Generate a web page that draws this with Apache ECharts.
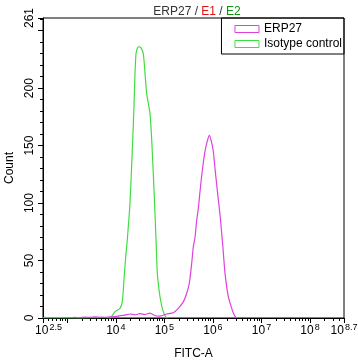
<!DOCTYPE html>
<html><head><meta charset="utf-8">
<script src="https://cdn.jsdelivr.net/npm/echarts@6/dist/echarts.min.js"></script>
<style>html,body{margin:0;padding:0;background:#fff}#c{width:358px;height:361px}</style>
</head><body><div id="c"></div>
<script>
// x values are log10(FITC-A)
const isoX = [2.50,2.54,2.62,2.85,3.00,3.26,3.57,3.74,3.88,3.983,4.086,4.133,4.168,4.203,4.236,4.292,4.348,4.374,4.395,4.416,4.446,4.483,4.518,4.566,4.601,4.636,4.673,4.704,4.739,4.786,4.828,4.855,4.910,4.966,5.033,5.081];
const isoY = [0,0.5,0,0.3,0,0,0.3,0.5,0,5.5,8.4,14,33,53,68,100,155,184,213,230,235,236,235,230,213,195,186,178,155,112,68,39,18.5,7,0.6,0];
const erpX = [3.118,3.262,3.365,3.468,3.571,3.674,3.777,3.880,3.983,4.086,4.189,4.292,4.395,4.498,4.601,4.704,4.807,4.910,5.048,5.184,5.287,5.390,5.460,5.513,5.563,5.596,5.631,5.666,5.699,5.734,5.769,5.802,5.837,5.878,5.925,5.960,6.008,6.043,6.078,6.111,6.146,6.201,6.249,6.317,6.387,6.434,6.475];
const erpY = [0.5,0.3,0.8,0.5,1,0.6,0.5,1,1.2,2,2.5,3.5,2.8,3.8,3,4.3,2,1.7,3.5,4.6,8.4,14,21.5,30,47.6,62,70,85,95,110,124,135,145,153,159,155,145,130,116,103,90,64,39,18.5,8.4,3,0];
const xLabelValues = [2.5,4,5,6,7,8,8.7];
const xLabelExps = ['2.5','4','5','6','7','8','8.7'];
const xMajorTicks = [2.5,3,4,5,6,7,8,8.7];
const yLabelValues = [0,50,100,150,200,261];
const yMajorTicks = [0,50,100,150,200,250,261];
const seriesNames = ['ERP27','Isotype control'];
const colErp = '#e040e0', colIso = '#40dd40';

const xMinor = [];
for (let n = 2; n <= 8; n++) for (let k = 2; k <= 9; k++) { const v = n + Math.log10(k); if (v > 2.5 && v < 8.7) xMinor.push(v); }
const yMinor = [];
for (let v = 10; v < 261; v += 10) if (v % 50) yMinor.push(v);

const FONT = 'Liberation Sans';
const chart = echarts.init(document.getElementById('c'), null, {renderer:'canvas'});
const pair = (xs, ys) => xs.map((x,i)=>[x, ys[i]]);
chart.setOption({
  animation:false,
  title:{text:'{a|ERP27 / }{r|E1}{a| / }{g|E2}', left:192, textAlign:'center', top:1,
    textStyle:{fontWeight:'normal',rich:{a:{fontSize:12,fontFamily:FONT,color:'#333',fontWeight:'normal'},r:{fontSize:12,fontFamily:FONT,color:'#e01010',fontWeight:'normal'},g:{fontSize:12,fontFamily:FONT,color:'#109010',fontWeight:'normal'}}}},
  grid:{left:43,right:14,top:18,bottom:43,show:true,borderColor:'#000',borderWidth:1,backgroundColor:'transparent',outerBoundsMode:'none',containLabel:false},
  legend:{orient:'vertical',right:14,top:18,icon:'rect',itemWidth:24,itemHeight:7,itemGap:3,itemStyle:{borderWidth:1},
    borderColor:'#000',borderWidth:1,padding:[5,2,4,13],
    textStyle:{fontFamily:FONT,fontSize:12,color:'#000'},
    data:[{name:seriesNames[0],itemStyle:{color:'#fff',borderColor:colErp,borderWidth:1}},
          {name:seriesNames[1],itemStyle:{color:'#fff',borderColor:colIso,borderWidth:1}}]},
  xAxis:[{type:'value',min:2.5,max:8.7,position:'bottom',
      name:'FITC-A',nameLocation:'middle',nameGap:30,nameTextStyle:{fontFamily:FONT,fontSize:12,color:'#000'},
      axisLine:{lineStyle:{color:'#000'}},splitLine:{show:false},
      axisTick:{customValues:xMajorTicks,length:5,lineStyle:{color:'#000'}},
      axisLabel:{customValues:xLabelValues,margin:5,alignMinLabel:'center',alignMaxLabel:'center',
        formatter:function(v){const i=xLabelValues.findIndex(t=>Math.abs(t-v)<1e-6);return (i===0?'{p|}':'')+'{b|10}{s|'+(i>=0?xLabelExps[i]:'')+'}';},
        rich:{p:{width:11},b:{fontSize:12,fontFamily:FONT,color:'#000'},s:{fontSize:9,fontFamily:FONT,color:'#000',padding:[0,0,7,1]}}}},
    {type:'value',min:2.5,max:8.7,position:'bottom',axisLine:{show:false},splitLine:{show:false},
      axisTick:{customValues:xMinor,length:3,lineStyle:{color:'#000'}},axisLabel:{show:false}}],
  yAxis:[{type:'value',min:0,max:261,position:'left',
      name:'Count',nameLocation:'middle',nameGap:21,nameRotate:90,nameTextStyle:{fontFamily:FONT,fontSize:12,color:'#000'},
      axisLine:{show:true,lineStyle:{color:'#000'}},splitLine:{show:false},
      axisTick:{show:true,customValues:yMajorTicks,length:5,lineStyle:{color:'#000'}},
      axisLabel:{customValues:yLabelValues,rotate:90,margin:7,fontFamily:FONT,fontSize:12,color:'#000'}},
    {type:'value',min:0,max:261,position:'left',axisLine:{show:false},splitLine:{show:false},
      axisTick:{show:true,customValues:yMinor,length:3,lineStyle:{color:'#000'}},axisLabel:{show:false}}],
  series:[
    {name:seriesNames[0],type:'line',data:pair(erpX,erpY),showSymbol:false,smooth:0.2,lineStyle:{color:colErp,width:1.2},itemStyle:{color:colErp},z:3},
    {name:seriesNames[1],type:'line',data:pair(isoX,isoY),showSymbol:false,smooth:0.2,lineStyle:{color:colIso,width:1.2},itemStyle:{color:colIso},z:2}
  ]
});
</script></body></html>
